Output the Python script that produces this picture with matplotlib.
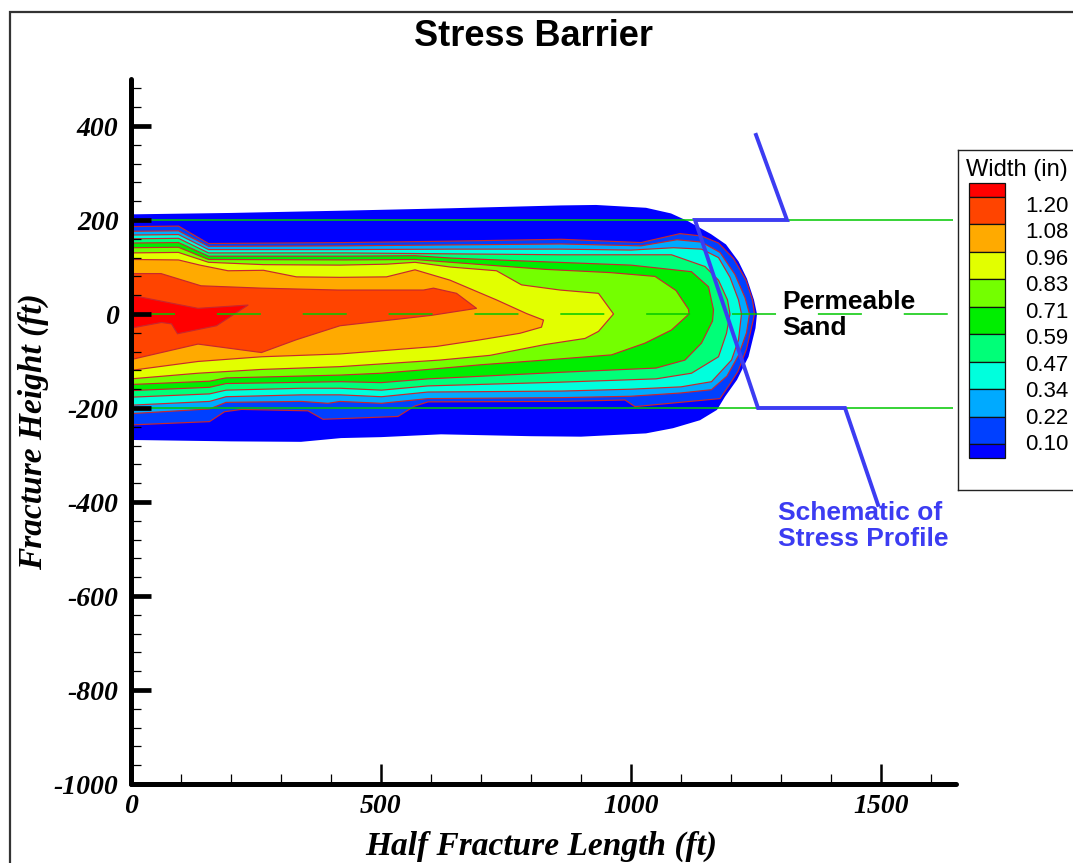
import numpy as np
import matplotlib
matplotlib.use("Agg")
import matplotlib.pyplot as plt
from matplotlib.patches import Rectangle

plt.rcParams['axes.unicode_minus'] = False

# ---------------- data ----------------
LEVELS = [0.10, 0.22, 0.34, 0.47, 0.59, 0.71, 0.83, 0.96, 1.08, 1.20]
LEVEL_LABELS = ["0.10", "0.22", "0.34", "0.47", "0.59", "0.71", "0.83", "0.96", "1.08", "1.20"]
# band colours, lowest (<0.10) to highest (>1.20)
BAND_COLORS = ['#0000ff', '#0040ff', '#00aaff', '#00ffdd', '#00ff78', '#00ee00',
               '#74ff00', '#e2ff00', '#ffaa00', '#ff4400', '#ff0000']

# fracture outline (width = 0), (half length ft, height ft)
FRACTURE_EDGE = [(0, 212), (200, 215), (430, 220), (640, 225), (860, 231), (930, 232), (1030, 226),
                 (1080, 214), (1115, 197), (1160, 170), (1190, 148), (1215, 112), (1232, 75),
                 (1246, 30), (1252, 0), (1249, -30), (1235, -91), (1212, -140), (1188, -176),
                 (1172, -204), (1138, -226), (1084, -243), (1030, -254), (900, -261), (800, -260),
                 (620, -256), (500, -262), (420, -264), (340, -272), (200, -271), (0, -268)]

# contour outlines of each width level (region above that level)
W010 = [(0, 186), (95, 187), (155, 150), (430, 152), (640, 155), (860, 159), (1020, 152), (1098, 171),
        (1141, 166), (1175, 151), (1205, 118), (1230, 72), (1243, 30), (1247, 0), (1244, -15),
        (1231, -75), (1214, -122), (1196, -152), (1178, -180), (1008, -197), (988, -183),
        (860, -186), (594, -187), (567, -196), (534, -218), (384, -224), (354, -206), (221, -203),
        (187, -208), (157, -229), (0, -236)]
W022 = [(0, 176), (95, 177), (155, 144), (430, 145), (640, 147), (860, 149), (1020, 145), (1092, 158),
        (1141, 153), (1178, 131), (1208, 84), (1228, 35), (1237, 0), (1231, -40), (1215, -88),
        (1192, -132), (1161, -161), (1100, -168), (1000, -175), (860, -178), (594, -180),
        (501, -190), (418, -186), (394, -190), (341, -186), (190, -188), (157, -202), (0, -212)]
W034 = [(0, 168), (95, 169), (155, 137), (430, 137), (640, 138), (860, 138), (1000, 136), (1085, 141),
        (1141, 138), (1175, 120), (1198, 78), (1215, 30), (1221, 0), (1215, -55), (1201, -98),
        (1161, -144), (1100, -155), (1000, -160), (860, -164), (594, -166), (501, -176),
        (418, -172), (341, -172), (190, -176), (157, -186), (0, -194)]
W047 = [(0, 160), (95, 161), (155, 130), (430, 130), (640, 128), (860, 126), (1081, 126), (1148, 101),
        (1175, 72), (1193, 30), (1198, 0), (1191, -41), (1175, -91), (1121, -126), (1050, -138),
        (860, -145), (594, -153), (501, -162), (418, -158), (341, -158), (190, -162),
        (157, -170), (0, -177)]
W059 = [(0, 151), (95, 152), (155, 123), (430, 123), (568, 124), (640, 119), (828, 111), (1000, 104),
        (1121, 90), (1155, 58), (1165, 9), (1163, -15), (1141, -62), (1108, -98), (1050, -115),
        (860, -124), (594, -138), (501, -146), (418, -144), (190, -148), (157, -156), (0, -163)]
W071 = [(0, 141), (95, 142), (155, 116), (430, 115), (568, 116), (640, 110), (828, 95), (960, 88),
        (1048, 80), (1090, 50), (1115, 10), (1116, 0), (1081, -34), (1028, -62), (961, -87),
        (828, -98), (700, -108), (594, -118), (501, -126), (418, -130), (190, -136), (157, -143),
        (0, -150)]
W083 = [(0, 130), (95, 131), (155, 110), (265, 105), (418, 104), (511, 106), (568, 110), (638, 100),
        (731, 92), (781, 62), (858, 51), (935, 44), (965, 0), (935, -37), (908, -52), (828, -65),
        (718, -88), (618, -98), (418, -112), (260, -118), (134, -126), (0, -138)]
W096 = [(0, 116), (95, 115), (138, 104), (194, 92), (265, 93), (331, 79), (418, 78), (511, 79),
        (568, 94), (638, 72), (731, 30), (791, 1), (825, -13), (821, -28), (778, -41), (698, -55),
        (611, -69), (418, -85), (261, -91), (134, -101), (0, -120)]
W108 = [(0, 86), (60, 86), (140, 60), (261, 55), (414, 51), (585, 51), (605, 55), (651, 44), (691, 12),
        (600, -3), (418, -25), (330, -55), (261, -82), (134, -64), (0, -97)]
W120 = [(0, 40), (134, 12), (234, 19), (171, -25), (93, -42), (81, -21), (61, -18), (0, -30)]

# schematic stress profile
STRESS_X = [1250, 1312, 1128, 1254, 1428, 1494]
STRESS_Y = [381, 200, 200, -200, -200, -406]

# sand boundaries / centre line
SAND_TOP = 200
SAND_BOTTOM = -200
SAND_CENTER = 0
GUIDE_END = 1645

# ---------------- figure ----------------
W, H = 1073, 863
fig = plt.figure(figsize=(W / 100, H / 100), dpi=100)
fig.patch.set_facecolor('white')

ax = fig.add_axes([131 / W, 79 / H, 825 / W, 705 / H])
ax.set_xlim(0, 1650)
ax.set_ylim(-1000, 500)
ax.set_axisbelow(False)

outlines = [FRACTURE_EDGE, W010, W022, W034, W047, W059, W071, W083, W096, W108, W120]
for i, (pts, col) in enumerate(zip(outlines, BAND_COLORS)):
    xs = [p[0] for p in pts]
    ys = [p[1] for p in pts]
    ax.fill(xs, ys, color=col, lw=0, zorder=1)
    if i > 0:
        ax.plot(xs, ys, color='#c8282d', lw=0.85, zorder=1.3, solid_joinstyle='round')

# sand guide lines
ax.hlines([SAND_TOP, SAND_BOTTOM], 0, GUIDE_END, colors='#00c800', lw=1.1, zorder=2, clip_on=False)
ax.hlines(SAND_CENTER, 0, GUIDE_END, colors='#00c800', lw=1.1, zorder=2,
          linestyles=[(0, (28.8, 27.4))], clip_on=False)

# stress profile
blue = '#3c3cf2'
ax.plot(STRESS_X, STRESS_Y, color=blue, lw=2.8, zorder=4, clip_on=False, solid_joinstyle='miter')

ax.text(1302, 52, 'Permeable\nSand', fontsize=19, fontweight='bold', family='Liberation Sans',
        ha='left', va='top', linespacing=1.12, zorder=5)
ax.text(1294, -398, 'Schematic of\nStress Profile', fontsize=19, fontweight='bold',
        family='Liberation Sans', color=blue, ha='left', va='top', linespacing=1.12, zorder=5)

# axes styling
for s in ['top', 'right']:
    ax.spines[s].set_visible(False)
for s in ['left', 'bottom']:
    ax.spines[s].set_linewidth(3.6)
    ax.spines[s].set_capstyle('round')
    ax.spines[s].set_zorder(6)

ax.set_xticks([0, 500, 1000, 1500])
ax.set_xticks(np.arange(0, 1650, 100), minor=True)
ax.set_yticks(np.arange(-1000, 401, 200))
ax.set_yticks(np.arange(-1000, 500, 40), minor=True)
ax.tick_params(which='both', direction='in', top=False, right=False)
ax.tick_params(axis='y', which='major', length=14.5, width=3.4, pad=9)
ax.tick_params(axis='x', which='major', length=14.5, width=1.8, pad=7)
ax.tick_params(which='minor', length=7.2, width=0.9)
for lab in ax.get_xticklabels() + ax.get_yticklabels():
    lab.set_fontfamily('Liberation Serif')
    lab.set_fontweight('bold')
    lab.set_fontstyle('italic')
    lab.set_fontsize(20)

fig.text(533 / W, 1 - 37 / H, 'Stress Barrier', ha='center', va='center', fontsize=26,
         fontweight='bold', family='Liberation Sans')
fig.text(33 / W, 1 - 432 / H, 'Fracture Height (ft)', rotation=90, ha='center', va='center',
         fontsize=24, family='Liberation Serif', fontweight='bold', fontstyle='italic')
fig.text(541 / W, 1.5 / H, 'Half Fracture Length (ft)', ha='center', va='bottom',
         fontsize=24, family='Liberation Serif', fontweight='bold', fontstyle='italic')

# legend panel
lax = fig.add_axes([958 / W, (H - 490) / H, 200 / W, 340 / H])
lax.set_xlim(958, 1158)
lax.set_ylim(490, 150)
lax.set_xticks([])
lax.set_yticks([])
for s in lax.spines.values():
    s.set_linewidth(1.0)
    s.set_color('#222222')
bounds = np.linspace(196.5, 444.5, len(LEVELS))
tops = np.concatenate([[183.0], bounds])
bottoms = np.concatenate([bounds, [458.0]])
lax.bar(np.full(len(tops), 969.0), bottoms - tops, width=36, bottom=tops, align='edge',
        color=BAND_COLORS[::-1], edgecolor='#111111', linewidth=0.9)
label_y = np.linspace(206, 445, len(LEVELS))
for y, t in zip(label_y, LEVEL_LABELS[::-1]):
    lax.text(1025, y, t, fontsize=16, family='Liberation Sans', ha='left', va='center')
lax.text(966, 170, 'Width (in)', fontsize=17, family='Liberation Sans', ha='left', va='center')

# outer frame
fig.add_artist(Rectangle((10 / W, -0.05), 1.2, 1 - 12 / H + 0.05, transform=fig.transFigure,
                         fill=False, ec='#333333', lw=1.6))

fig.savefig('out.png', dpi=100)
